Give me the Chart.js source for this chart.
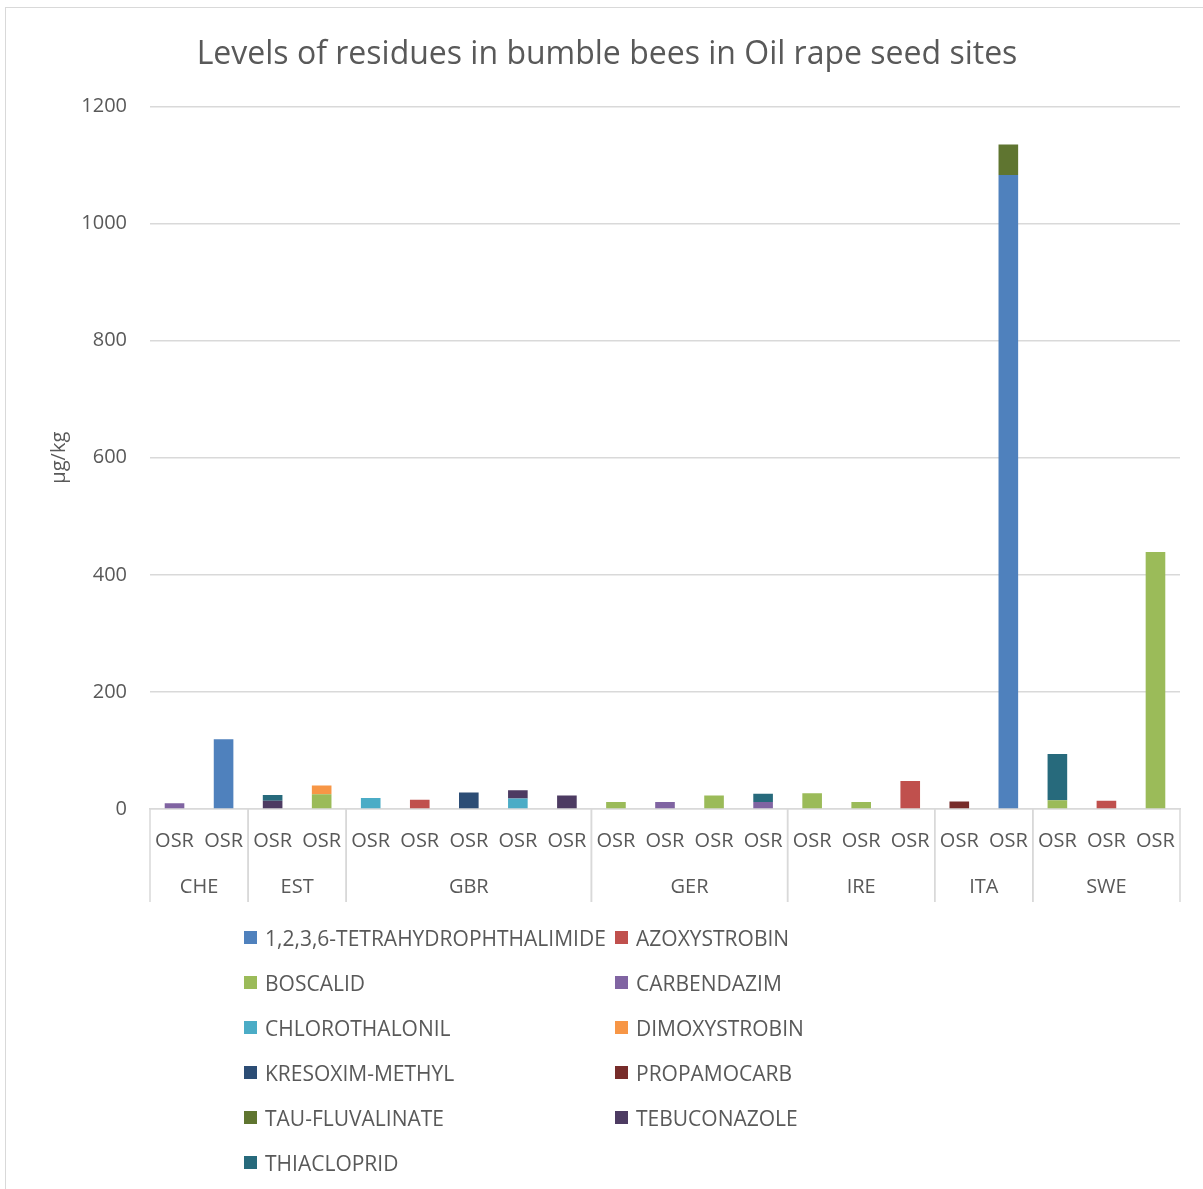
<!DOCTYPE html>
<html>
<head>
<meta charset="utf-8">
<script src="https://cdn.jsdelivr.net/npm/chart.js@4.4.1/dist/chart.umd.min.js"></script>
<style>
  html, body { margin: 0; padding: 0; background: #fff; }
  #wrap { position: relative; width: 1203px; height: 1189px; overflow: hidden; }
  #frame { position: absolute; left: 5px; top: 7px; width: 1300px; height: 1300px;
           border-left: 1.5px solid #d9d9d9; border-top: 1.5px solid #d9d9d9; }
  #chart { position: absolute; left: 0; top: 0; }
  #legend { position: absolute; left: 244px; top: 924px; width: 760px;
            display: grid; grid-template-columns: 371px 371px; row-gap: 0;
            font-family: "Open Sans", sans-serif; font-size: 21px; color: #595959; }
  #legend .item { height: 45px; display: flex; align-items: flex-start; white-space: nowrap; }
  #legend .box { width: 13px; height: 13px; margin: 7px 8px 0 0; flex: none; }
</style>
</head>
<body>
<div id="wrap">
  <div id="frame"></div>
  <canvas id="chart" width="1203" height="1189"></canvas>
  <div id="legend"></div>
</div>
<script>
(function () {
  'use strict';

  // one OSR site per bar, grouped by country
  const siteLabels = Array(21).fill('OSR');
  const groups     = ['CHE', 'EST', 'GBR', 'GER', 'IRE', 'ITA', 'SWE'];
  const groupSizes = [2, 2, 5, 4, 3, 2, 3];

  // values in µg/kg, per site (CHE1..SWE3)
  const tetrahydrophthalimide = [0, 119, 0, 0, 0, 0, 0, 0, 0, 0, 0, 0, 0, 0, 0, 0, 0, 1083, 0, 0, 0];
  const azoxystrobin   = [0, 0, 0, 0, 0, 16, 0, 0, 0, 0, 0, 0, 0, 0, 0, 48, 0, 0, 0, 14, 0];
  const boscalid       = [0, 0, 0, 25, 0, 0, 0, 0, 0, 12, 0, 23, 0, 27, 12, 0, 0, 0, 15, 0, 439];
  const carbendazim    = [10, 0, 0, 0, 0, 0, 0, 0, 0, 0, 12, 0, 12, 0, 0, 0, 0, 0, 0, 0, 0];
  const chlorothalonil = [0, 0, 0, 0, 19, 0, 0, 18, 0, 0, 0, 0, 0, 0, 0, 0, 0, 0, 0, 0, 0];
  const dimoxystrobin  = [0, 0, 0, 15, 0, 0, 0, 0, 0, 0, 0, 0, 0, 0, 0, 0, 0, 0, 0, 0, 0];
  const kresoximMethyl = [0, 0, 0, 0, 0, 0, 28, 0, 0, 0, 0, 0, 0, 0, 0, 0, 0, 0, 0, 0, 0];
  const propamocarb    = [0, 0, 0, 0, 0, 0, 0, 0, 0, 0, 0, 0, 0, 0, 0, 0, 13, 0, 0, 0, 0];
  const tauFluvalinate = [0, 0, 0, 0, 0, 0, 0, 0, 0, 0, 0, 0, 0, 0, 0, 0, 0, 52, 0, 0, 0];
  const tebuconazole   = [0, 0, 14, 0, 0, 0, 0, 14, 23, 0, 0, 0, 0, 0, 0, 0, 0, 0, 0, 0, 0];
  const thiacloprid    = [0, 0, 10, 0, 0, 0, 0, 0, 0, 0, 0, 0, 14, 0, 0, 0, 0, 0, 79, 0, 0];

  const yTicks = [0, 200, 400, 600, 800, 1000, 1200];

  const GRID = '#d9d9d9';
  const TEXT = '#595959';
  const FONT = '"Open Sans", sans-serif';

  function bar(label, color, data) {
    return {
      label,
      data,
      backgroundColor: color,
      borderWidth: 0,
      categoryPercentage: 1,
      barPercentage: 0.4,
    };
  }

  const datasets = [
    bar('1,2,3,6-TETRAHYDROPHTHALIMIDE', '#4f81bd', tetrahydrophthalimide),
    bar('AZOXYSTROBIN',    '#c0504d', azoxystrobin),
    bar('BOSCALID',        '#9bbb59', boscalid),
    bar('CARBENDAZIM',     '#8064a2', carbendazim),
    bar('CHLOROTHALONIL',  '#4bacc6', chlorothalonil),
    bar('DIMOXYSTROBIN',   '#f79646', dimoxystrobin),
    bar('KRESOXIM-METHYL', '#2c4d75', kresoximMethyl),
    bar('PROPAMOCARB',     '#772c2a', propamocarb),
    bar('TAU-FLUVALINATE', '#5f7530', tauFluvalinate),
    bar('TEBUCONAZOLE',    '#4d3b62', tebuconazole),
    bar('THIACLOPRID',     '#276a7c', thiacloprid),
  ];

  // country labels + separators under the OSR ticks
  const groupAxis = {
    id: 'groupAxis',
    afterDraw(chart) {
      const x = chart.scales.x;
      const ctx = chart.ctx;
      const half = (x.getPixelForValue(1) - x.getPixelForValue(0)) / 2;
      const top = chart.chartArea.bottom;
      ctx.save();
      ctx.strokeStyle = GRID;
      ctx.lineWidth = 1.5;
      ctx.fillStyle = TEXT;
      ctx.font = '20px ' + FONT;
      ctx.textAlign = 'center';
      ctx.textBaseline = 'middle';
      let start = 0;
      groups.forEach((g, i) => {
        const end = start + groupSizes[i] - 1;
        const x0 = x.getPixelForValue(start) - half;
        const x1 = x.getPixelForValue(end) + half;
        ctx.beginPath();
        ctx.moveTo(x0, top); ctx.lineTo(x0, top + 93);
        ctx.moveTo(x1, top); ctx.lineTo(x1, top + 93);
        ctx.stroke();
        ctx.fillText(g, (x0 + x1) / 2, top + 78);
        start = end + 1;
      });
      ctx.restore();
    },
  };

  new Chart(document.getElementById('chart'), {
    type: 'bar',
    data: { labels: siteLabels, datasets },
    options: {
      responsive: false,
      animation: false,
      layout: { padding: { left: 34, right: 23, top: 0, bottom: 0 } },
      plugins: {
        legend: { display: false },
        tooltip: { enabled: false },
        title: {
          display: true,
          text: 'Levels of residues in bumble bees in Oil rape seed sites',
          color: TEXT,
          font: { family: FONT, size: 32, weight: 'normal' },
          padding: { top: 36, bottom: 32 },
        },
      },
      scales: {
        x: {
          stacked: true,
          grid: { display: false },
          border: { color: GRID, width: 1.5 },
          ticks: { color: TEXT, font: { family: FONT, size: 20 }, padding: 12, maxRotation: 0, autoSkip: false },
          afterFit(s) { s.height = 380; },
        },
        y: {
          stacked: true,
          min: 0,
          max: 1200,
          afterBuildTicks(s) { s.ticks = yTicks.map(v => ({ value: v })); },
          grid: { color: GRID, lineWidth: 1.5, drawTicks: false },
          border: { display: false },
          ticks: { color: TEXT, font: { family: FONT, size: 20 }, padding: 23, callback: v => String(v) },
          title: {
            display: true,
            text: 'µg/kg',
            color: TEXT,
            font: { family: FONT, size: 20 },
            padding: { top: 13, bottom: 0 },
          },
          afterFit(s) { s.width = 116; },
        },
      },
    },
    plugins: [groupAxis],
  });

  // two-column legend like the original
  const legend = document.getElementById('legend');
  datasets.forEach(ds => {
    const item = document.createElement('div');
    item.className = 'item';
    const box = document.createElement('span');
    box.className = 'box';
    box.style.background = ds.backgroundColor;
    item.appendChild(box);
    item.appendChild(document.createTextNode(ds.label));
    legend.appendChild(item);
  });
})();
</script>
</body>
</html>
